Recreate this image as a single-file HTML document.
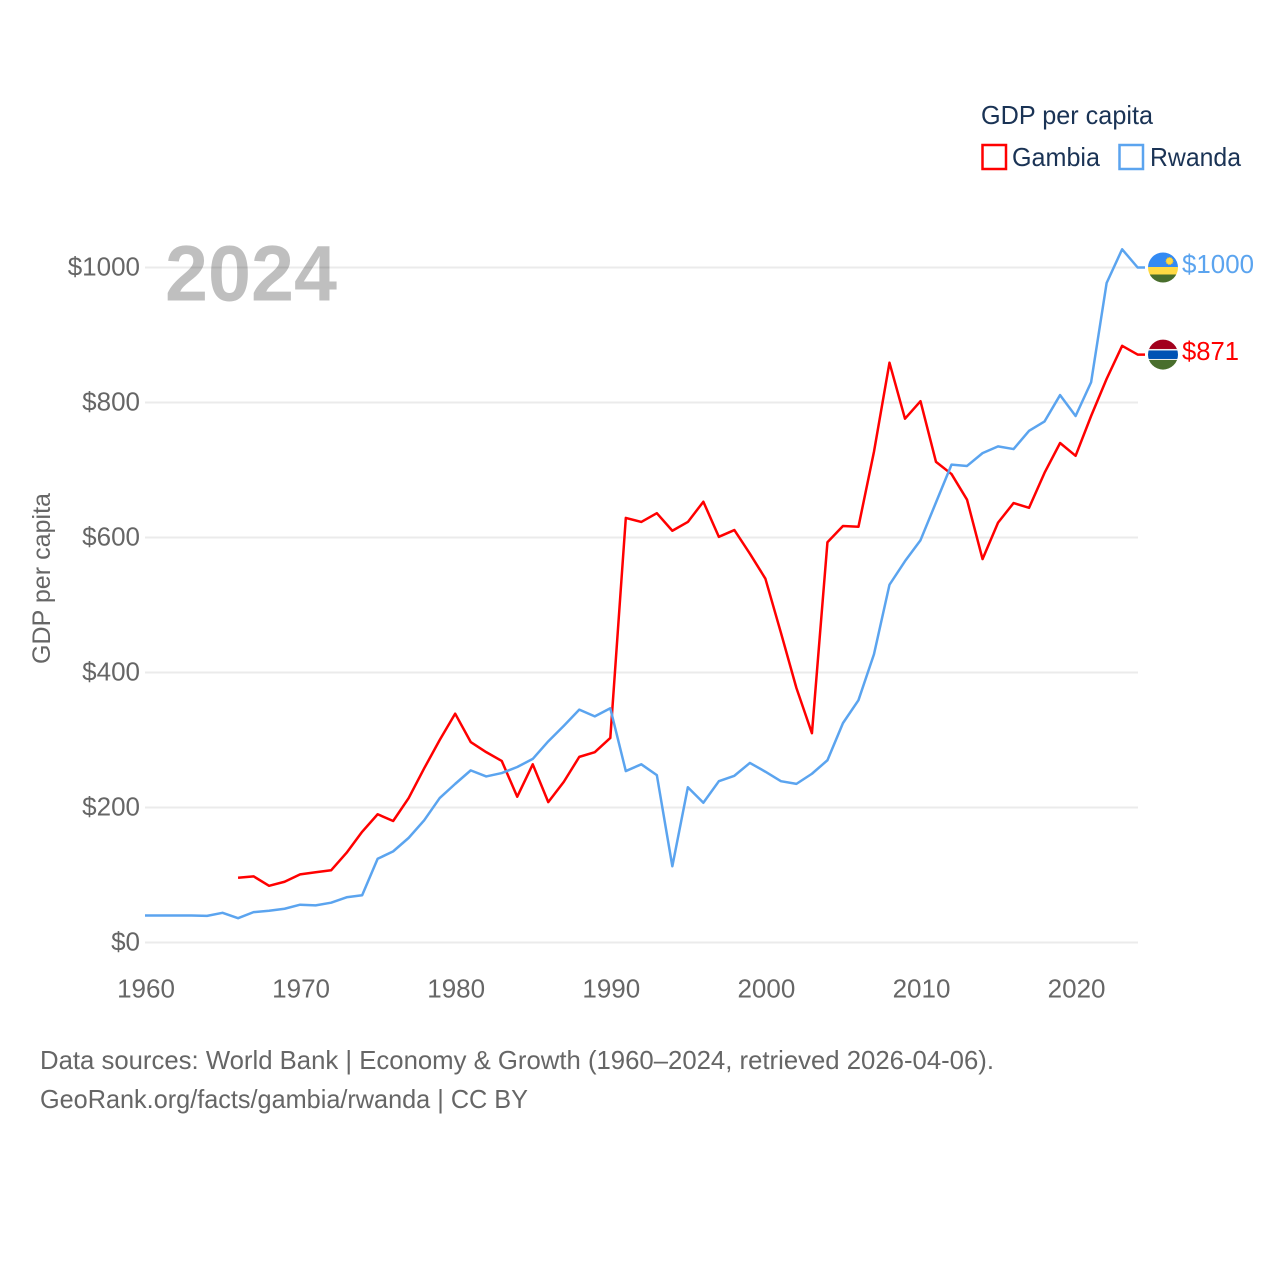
<!DOCTYPE html>
<html lang="en">
<head>
<meta charset="utf-8">
<title>GDP per capita: Gambia and Rwanda</title>
<style>
html,body{margin:0;padding:0;background:#fff;width:1280px;height:1280px;overflow:hidden}
svg{display:block}
text{font-family:"Liberation Sans",sans-serif}
</style>
</head>
<body>
<svg id="chart" xmlns="http://www.w3.org/2000/svg" width="1280" height="1280" viewBox="0 0 1280 1280">
  <defs>
    <clipPath id="clip-rw"><circle id="clip-rw-c" cx="1163" cy="267.5" r="15"/></clipPath>
    <clipPath id="clip-gm"><circle id="clip-gm-c" cx="1163" cy="354.6" r="15"/></clipPath>
  </defs>
  <rect width="1280" height="1280" fill="#fff"/>
  <g id="grid"></g>
  <text x="165" y="300.500" font-size="79" font-weight="700" fill="rgba(0,0,0,0.25)" textLength="172" lengthAdjust="spacingAndGlyphs">2024</text>
  <g id="y-ticks"></g>
  <g id="x-ticks"></g>
  <text transform="translate(50,664) rotate(-90)" font-size="25" fill="#666" textLength="171" lengthAdjust="spacingAndGlyphs">GDP per capita</text>
  <g id="series"></g>
  <g id="flag-rw" clip-path="url(#clip-rw)">
    <rect x="1148" y="252" width="30" height="16" fill="#338af3"/>
    <rect x="1148" y="267" width="30" height="8" fill="#ffda44"/>
    <rect x="1148" y="274.5" width="30" height="9" fill="#496e2d"/>
    <circle cx="1169.500" cy="261" r="3.500" fill="#ffda44" stroke="#eeb92e" stroke-width="1" stroke-dasharray="1 1"/>
  </g>
  <g id="flag-gm" clip-path="url(#clip-gm)">
    <rect x="1148" y="339" width="30" height="11" fill="#a2001d"/>
    <rect x="1148" y="349" width="30" height="12" fill="#f0f0f0"/>
    <rect x="1148" y="350.500" width="30" height="8.500" fill="#0052b4"/>
    <rect x="1148" y="360" width="30" height="11" fill="#496e2d"/>
  </g>
  <text id="label-rw" x="1182" y="273" font-size="26" fill="#5ba4ef" textLength="72" lengthAdjust="spacingAndGlyphs">$1000</text>
  <text id="label-gm" x="1182" y="360" font-size="26" fill="#ff0000" textLength="57" lengthAdjust="spacingAndGlyphs">$871</text>

  <g>
    <text x="981" y="124" font-size="26" fill="#1a3355" textLength="172" lengthAdjust="spacingAndGlyphs">GDP per capita</text>
    <rect x="982.500" y="145" width="23.500" height="24" fill="none" stroke="#ff0000" stroke-width="2.500"/>
    <text x="1012" y="166" font-size="26" fill="#1a3355" textLength="88" lengthAdjust="spacingAndGlyphs">Gambia</text>
    <rect x="1119.500" y="145" width="23.500" height="24" fill="none" stroke="#5ba4ef" stroke-width="2.500"/>
    <text x="1150" y="166" font-size="26" fill="#1a3355" textLength="91" lengthAdjust="spacingAndGlyphs">Rwanda</text>
  </g>

  <g>
    <text x="40" y="1069" font-size="26" fill="#666" textLength="954" lengthAdjust="spacingAndGlyphs">Data sources: World Bank | Economy &amp; Growth (1960–2024, retrieved 2026-04-06).</text>
    <text x="40" y="1108" font-size="26" fill="#666" textLength="488" lengthAdjust="spacingAndGlyphs">GeoRank.org/facts/gambia/rwanda | CC BY</text>
  </g>
</svg>
<script>
const startYear = 1960;
const yTickValues = [0, 200, 400, 600, 800, 1000];
const xTickValues = [1960, 1970, 1980, 1990, 2000, 2010, 2020];
const rwandaValues = [40,40,40,40,39.5,44,36,45,47,50,56,55,59,67,70,124,135,155,181,214,235,255,246,251,260,272,298,321,345,335,347,254,264,248,113,230,207,239,247,266,253,239,235,250,270,325,359,427,530,565,596,652,708,706,725,735,731,758,772,811,780,830,977,1027,1000];
const gambiaValues = [null,null,null,null,null,null,96,98,84,90,101,104,107,133,164,190,180,214,258,300,339,297,282,269,216,264,208,238,275,282,303,629,623,636,610,623,653,601,611,576,539,459,377,310,593,617,616,727,859,776,802,712,694,656,568,622,651,644,696,740,721,780,835,884,871];

const NS = 'http://www.w3.org/2000/svg';
const xScale = function (year) { return 145 + (year - 1960) * 15.51; };
const yScale = function (value) { return 942.5 - value * 0.675; };
const gridG = document.getElementById('grid');
const yG = document.getElementById('y-ticks');
const xG = document.getElementById('x-ticks');
const seriesG = document.getElementById('series');

yTickValues.forEach(function (v) {
  const line = document.createElementNS(NS, 'line');
  
  
  line.setAttribute('x1', 145);
  line.setAttribute('x2', 1138);
  line.setAttribute('y1', yScale(v));
  line.setAttribute('y2', yScale(v));
  line.setAttribute('stroke', '#ebebeb');
  line.setAttribute('stroke-width', 2);
  gridG.appendChild(line);
  const label = document.createElementNS(NS, 'text');
  
  
  label.setAttribute('x', 140);
  label.setAttribute('y', yScale(v) + 8);
  label.setAttribute('text-anchor', 'end');
  label.setAttribute('font-size', 26);
  label.setAttribute('fill', '#666');
  label.textContent = '$' + v;
  yG.appendChild(label);
});

xTickValues.forEach(function (yr) {
  const label = document.createElementNS(NS, 'text');
  
  
  label.setAttribute('x', xScale(yr) + 1);
  label.setAttribute('y', 997.5);
  label.setAttribute('text-anchor', 'middle');
  label.setAttribute('font-size', 26);
  label.setAttribute('fill', '#666');
  label.textContent = String(yr);
  xG.appendChild(label);
});

function buildPath(values) {
  let d = '';
  let lastValue = null;
  values.forEach(function (v, i) {
    if (v === null) return;
    d += (d ? 'L' : 'M') + xScale(startYear + i).toFixed(2) + ' ' + yScale(v).toFixed(2);
    lastValue = v;
  });
  d += 'L1145 ' + yScale(lastValue).toFixed(2);
  return d;
}

const gambiaLine = document.createElementNS(NS, 'path');


gambiaLine.setAttribute('d', buildPath(gambiaValues));
gambiaLine.setAttribute('fill', 'none');
gambiaLine.setAttribute('stroke', '#ff0000');
gambiaLine.setAttribute('stroke-width', 2.5);
gambiaLine.setAttribute('stroke-linejoin', 'round');
seriesG.appendChild(gambiaLine);

const rwandaLine = document.createElementNS(NS, 'path');


rwandaLine.setAttribute('d', buildPath(rwandaValues));
rwandaLine.setAttribute('fill', 'none');
rwandaLine.setAttribute('stroke', '#5ba4ef');
rwandaLine.setAttribute('stroke-width', 2.5);
rwandaLine.setAttribute('stroke-linejoin', 'round');
seriesG.appendChild(rwandaLine);

/* End-of-line flags and value labels follow the final data point */
const lastRw = rwandaValues[rwandaValues.length - 1];
const lastGm = gambiaValues[gambiaValues.length - 1];
const dyRw = yScale(lastRw) - 267.5;
const dyGm = yScale(lastGm) - 354.6;
document.getElementById('clip-rw-c').setAttribute('cy', yScale(lastRw));
document.getElementById('clip-gm-c').setAttribute('cy', yScale(lastGm));
Array.from(document.getElementById('flag-rw').children).forEach(function (el) {
  el.setAttribute('transform', 'translate(0,' + dyRw + ')');
});
Array.from(document.getElementById('flag-gm').children).forEach(function (el) {
  el.setAttribute('transform', 'translate(0,' + dyGm + ')');
});
const labelRw = document.getElementById('label-rw');
const labelGm = document.getElementById('label-gm');
labelRw.setAttribute('y', yScale(lastRw) + 5.5);
labelGm.setAttribute('y', yScale(lastGm) + 5.5);
labelRw.textContent = '$' + lastRw;
labelGm.textContent = '$' + lastGm;
</script>
</body>
</html>
